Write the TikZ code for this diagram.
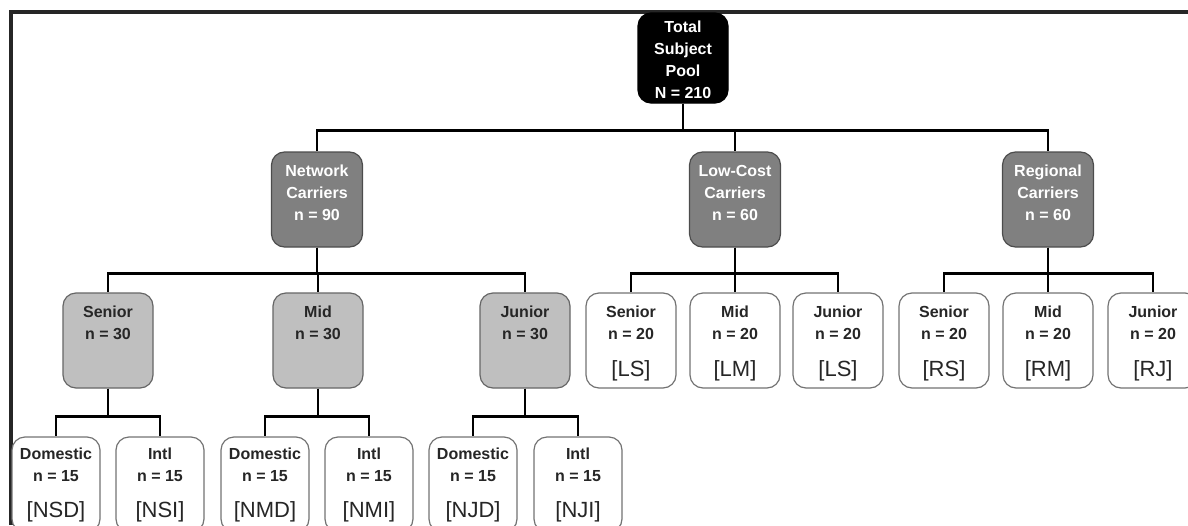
\documentclass[tikz,border=0pt]{standalone}
\usepackage{fontspec}
\setmainfont{Liberation Sans}
\usepackage{tikz}
\newcommand{\boxlines}[4]{\parbox[t][#1][t]{#2}{\centering\fontsize{16}{22}\selectfont\bfseries\rule{0pt}{#3}#4}}
\newcommand{\code}[1]{{\fontsize{22}{22}\selectfont\mdseries #1}}

\begin{document}
\begin{tikzpicture}[x=1pt, y=-1pt]
\tikzset{box/.style = {shape=rectangle, rounded corners=13pt, line width=1.2pt, inner sep=0pt}}
\tikzset{pool/.style = {box, fill=black, draw=black, text=white}}
\tikzset{carrier/.style = {box, fill=black!50, draw=black!70, text=white}}
\tikzset{rank/.style = {box, fill=black!25, draw=black!60, text=black!85}}
\tikzset{group/.style = {box, fill=white, draw=black!55, text=black!85}}
\tikzset{edge/.style = {line width=2.6pt, black}}
\useasboundingbox (0,0) rectangle (1188,525);
\clip (0,0) rectangle (1188,525);
% frame
\draw[line width=4pt, black!85] (11,525) -- (11,12) -- (1188,12);
% top
\node[pool] (total) at (683,58) {\boxlines{90pt}{90pt}{19pt}{Total\\Subject\\Pool\\N = 210}};
% carriers
\node[carrier] (net) at (317,199.5) {\boxlines{95pt}{91pt}{24pt}{Network\\Carriers\\n = 90}};
\node[carrier] (low) at (735,199.5) {\boxlines{95pt}{91pt}{24pt}{Low-Cost\\Carriers\\n = 60}};
\node[carrier] (reg) at (1048,199.5) {\boxlines{95pt}{91pt}{24pt}{Regional\\Carriers\\n = 60}};
% network ranks
\node[rank] (ns) at (108,340.5) {\boxlines{95pt}{90pt}{24pt}{Senior\\n = 30}};
\node[rank] (nm) at (318,340.5) {\boxlines{95pt}{90pt}{24pt}{Mid\\n = 30}};
\node[rank] (nj) at (525,340.5) {\boxlines{95pt}{90pt}{24pt}{Junior\\n = 30}};
% low-cost ranks
\node[group] (ls) at (631,340.5) {\boxlines{95pt}{90pt}{24pt}{Senior\\n = 20\\[15pt]\code{[LS]}}};
\node[group] (lm) at (735,340.5) {\boxlines{95pt}{90pt}{24pt}{Mid\\n = 20\\[15pt]\code{[LM]}}};
\node[group] (lj) at (838,340.5) {\boxlines{95pt}{90pt}{24pt}{Junior\\n = 20\\[15pt]\code{[LS]}}};
% regional ranks
\node[group] (rs) at (944,340.5) {\boxlines{95pt}{90pt}{24pt}{Senior\\n = 20\\[15pt]\code{[RS]}}};
\node[group] (rm) at (1048,340.5) {\boxlines{95pt}{90pt}{24pt}{Mid\\n = 20\\[15pt]\code{[RM]}}};
\node[group] (rj) at (1153,340.5) {\boxlines{95pt}{90pt}{24pt}{Junior\\n = 20\\[15pt]\code{[RJ]}}};
% network routes
\node[group] (nsd) at (56,484.5) {\boxlines{95pt}{88pt}{22pt}{Domestic\\n = 15\\[14pt]\code{[NSD]}}};
\node[group] (nsi) at (160,484.5) {\boxlines{95pt}{88pt}{22pt}{Intl\\n = 15\\[14pt]\code{[NSI]}}};
\node[group] (nmd) at (265,484.5) {\boxlines{95pt}{88pt}{22pt}{Domestic\\n = 15\\[14pt]\code{[NMD]}}};
\node[group] (nmi) at (369,484.5) {\boxlines{95pt}{88pt}{22pt}{Intl\\n = 15\\[14pt]\code{[NMI]}}};
\node[group] (njd) at (473,484.5) {\boxlines{95pt}{88pt}{22pt}{Domestic\\n = 15\\[14pt]\code{[NJD]}}};
\node[group] (nji) at (578,484.5) {\boxlines{95pt}{88pt}{22pt}{Intl\\n = 15\\[14pt]\code{[NJI]}}};

%edges
\draw[edge] (total.south) -- ++(0,27) -| (net.north);
\draw[edge] (total.south) -- ++(0,27) -| (low.north);
\draw[edge] (total.south) -- ++(0,27) -| (reg.north);
\draw[edge] (net.south) -- ++(0,26) -| (ns.north);
\draw[edge] (net.south) -- ++(0,26) -| (nm.north);
\draw[edge] (net.south) -- ++(0,26) -| (nj.north);
\draw[edge] (low.south) -- ++(0,26) -| (ls.north);
\draw[edge] (low.south) -- ++(0,26) -| (lm.north);
\draw[edge] (low.south) -- ++(0,26) -| (lj.north);
\draw[edge] (reg.south) -- ++(0,26) -| (rs.north);
\draw[edge] (reg.south) -- ++(0,26) -| (rm.north);
\draw[edge] (reg.south) -- ++(0,26) -| (rj.north);
\draw[edge] (ns.south) -- ++(0,28) -| (nsd.north);
\draw[edge] (ns.south) -- ++(0,28) -| (nsi.north);
\draw[edge] (nm.south) -- ++(0,28) -| (nmd.north);
\draw[edge] (nm.south) -- ++(0,28) -| (nmi.north);
\draw[edge] (nj.south) -- ++(0,28) -| (njd.north);
\draw[edge] (nj.south) -- ++(0,28) -| (nji.north);

\end{tikzpicture}
\end{document}
